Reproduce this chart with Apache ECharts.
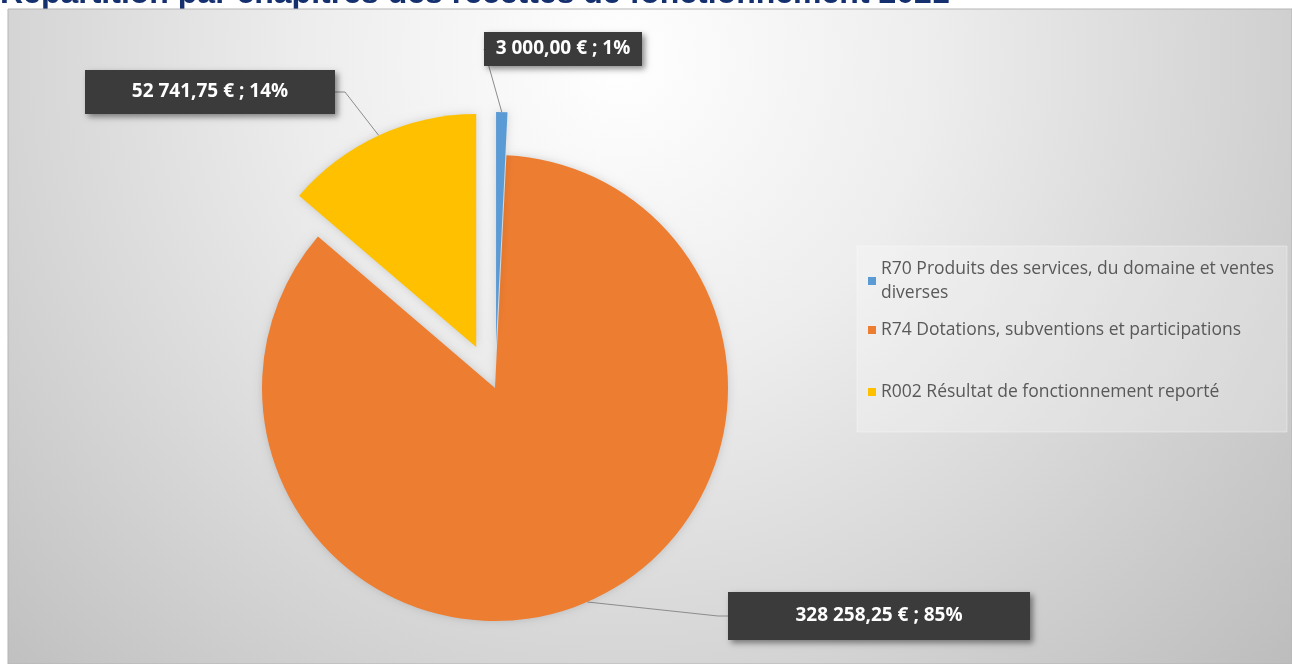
<!DOCTYPE html>
<html><head><meta charset="utf-8">
<script src="https://cdn.jsdelivr.net/npm/echarts@6/dist/echarts.min.js"></script>
<style>html,body{margin:0;padding:0;background:#fff}#c{width:1292px;height:664px}</style>
</head><body><div id="c"></div>
<script>
const titleText = 'Répartition par chapitres des recettes de fonctionnement 2021';
const categories = [
  'R70 Produits des services, du domaine et ventes diverses',
  'R74 Dotations, subventions et participations',
  'R002 Résultat de fonctionnement reporté'
];
const values = [3000.00, 328258.25, 52741.75];
const legendLines = [
  'R70 Produits des services, du domaine et ventes\ndiverses',
  'R74 Dotations, subventions et participations',
  'R002 Résultat de fonctionnement reporté'
];
const colors = ['#5B9BD5', '#ED7D31', '#FFC000'];

// layout / style (not data)
const pieCenter = [495, 388];
const pieRadius = 233;
const explodeDist = [43, 0, 45];
const labelBoxes = [ {x:563, y:49, w:158, h:34}, {x:879, y:616, w:302, h:48}, {x:210, y:92, w:250, h:44} ];
const legendTops = [245, 318, 380];

function fmtMoney(v){
  const parts = v.toFixed(2).split('.');
  const intPart = parts[0].replace(/\B(?=(\d{3})+(?!\d))/g, ' ');
  return intPart + ',' + parts[1] + ' €';
}

const total = values.reduce((a,b)=>a+b,0);
// explosion offsets along each slice's mid-angle (clockwise from 12 o'clock)
let acc = 0;
const offsets = values.map((v,i)=>{
  const mid = (acc + v/2)/total*2*Math.PI; acc += v;
  return [Math.sin(mid)*explodeDist[i], -Math.cos(mid)*explodeDist[i]];
});

const chart = echarts.init(document.getElementById('c'));

const series = categories.map((_, k)=>({
  type: 'pie', z: 5 + (k===1?0:1), name: 'slice' + k,
  center: [pieCenter[0] + offsets[k][0], pieCenter[1] + offsets[k][1]],
  radius: pieRadius, startAngle: 90, clockwise: true,
  avoidLabelOverlap: false, selectedMode: false,
  emphasis: {disabled: true},
  label: {
    show: true,
    formatter: p => fmtMoney(p.value) + ' ; ' + Math.round(p.percent) + '%',
    color: '#ffffff', fontFamily: 'Open Sans', fontWeight: 'bold', fontSize: 19,
    backgroundColor: '#3b3b3b', align: 'center', verticalAlign: 'middle',
    shadowBlur: 6, shadowOffsetX: 3, shadowOffsetY: 3, shadowColor: 'rgba(0,0,0,0.45)'
  },
  labelLine: {show: true, length: 15, length2: 10, smooth: false, lineStyle: {color: '#8c8c8c', width: 1}},
  labelLayout: function(params){
    const b = labelBoxes[params.dataIndex];
    return {x: b.x, y: b.y, align: 'center', verticalAlign: 'middle', moveOverlap: false};
  },
  data: categories.map((n,i)=>({
    name: n, value: values[i],
    itemStyle: i===k ? {color: colors[i], shadowBlur: 8, shadowColor: 'rgba(0,0,0,0.15)'}
                     : {color: 'rgba(0,0,0,0)', shadowBlur: 0},
    label: i===k ? {show: true, width: labelBoxes[i].w, height: labelBoxes[i].h} : {show: false},
    labelLine: {show: i===k}
  }))
}));

const legends = categories.map((n,i)=>({
  data: [{name: n, itemStyle: {color: colors[i]}}],
  orient: 'vertical', left: 868, top: legendTops[i], padding: 0,
  icon: 'rect', itemWidth: 8, itemHeight: 8, itemGap: 0, selectedMode: false,
  formatter: () => legendLines[i],
  textStyle: {fontFamily: 'Open Sans', fontSize: 17.5, color: '#595959', lineHeight: 24,
    padding: i===0 ? [24,0,0,0] : 0}
}));

chart.setOption({
  animation: false,
  graphic: [
    {type:'text', left: 0, top: -22, z: 1, style:{text: titleText, fill:'#14306E', font:'bold 32px "Liberation Sans", Arial'}},
    {type:'rect', shape:{x:8, y:9, width:1284, height:655}, z: 2,
      style:{fill:{type:'radial', x:620, y:60, r:900, global:true,
        colorStops:[{offset:0,color:'#ffffff'},{offset:0.35,color:'#ededed'},{offset:1,color:'#bdbdbd'}]},
        stroke:'#b5b5b5', lineWidth:1}},
    {type:'rect', shape:{x:857, y:246, width:430, height:186}, z: 3,
      style:{fill:'rgba(255,255,255,0.25)', stroke:'rgba(255,255,255,0.35)', lineWidth:1}}
  ],
  legend: legends,
  series: series
});
</script></body></html>
